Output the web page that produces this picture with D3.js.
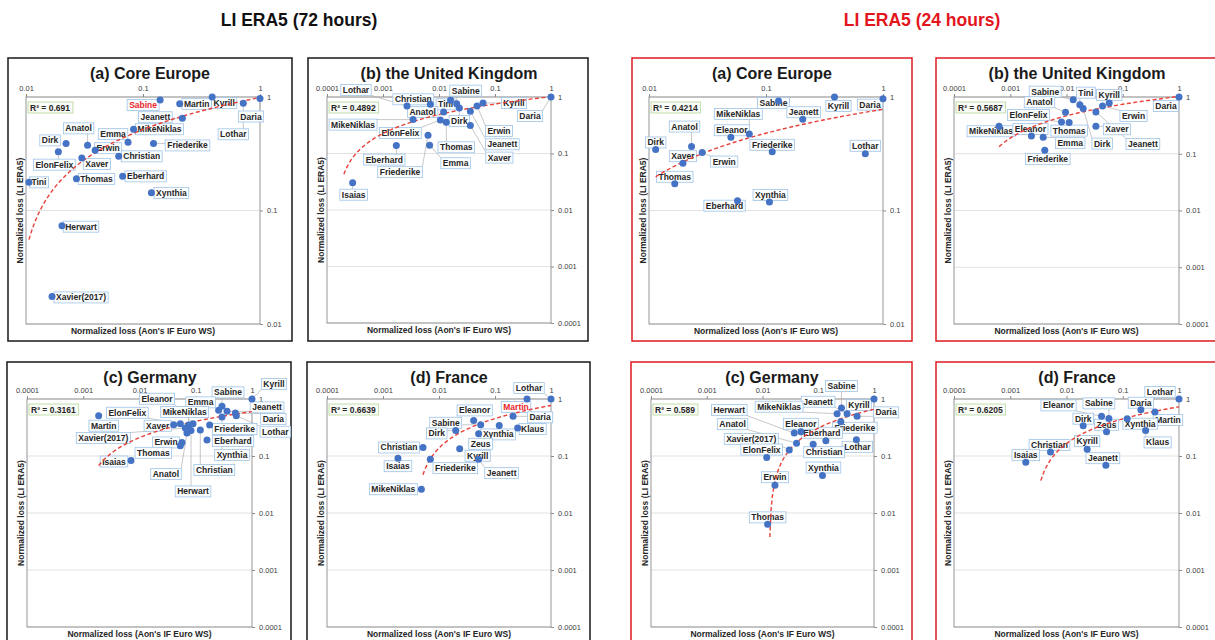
<!DOCTYPE html>
<html><head><meta charset="utf-8">
<script src="https://cdn.jsdelivr.net/npm/d3@7"></script>
<style>body{margin:0;background:#fff;} svg{display:block;}</style>
</head><body><svg id="c" width="1215" height="640"></svg>
<script>
// ---------------- DATA (normalized losses) ----------------
// 72 hours
const a72_names = ["Sabine","Martin","Kyrill","Daria","Lothar","Jeanett","MikeNiklas","Anatol","Emma","Erwin","Friederike","Dirk","ElonFelix","Christian","Xaver","Thomas","Eberhard","Tini","Xynthia","Herwart","Xavier(2017)"];
const a72_aon = [0.14,0.206,0.39,1.0,0.72,0.217,0.083,0.0336,0.0745,0.039,0.123,0.022,0.0189,0.062,0.030,0.027,0.067,0.0106,0.118,0.0203,0.0167];
const a72_li  = [0.94,0.87,1.0,0.97,0.88,0.65,0.52,0.375,0.40,0.34,0.39,0.39,0.33,0.30,0.29,0.19,0.20,0.177,0.143,0.0735,0.0175];

const b72_names = ["Lothar","Christian","Tini","Sabine","Dirk","Anatol","MikeNiklas","Kyrill","Erwin","Jeanett","Xaver","Daria","ElonFelix","Thomas","Friederike","Emma","Eberhard","Isaias"];
const b72_aon = [0.00268,0.0070,0.0161,0.0207,0.0231,0.0121,0.00344,0.061,0.0477,0.0363,0.0363,1.0,0.01057,0.0135,0.00637,0.0068,0.00173,0.000287];
const b72_li  = [0.694,0.742,0.873,0.763,0.64,0.544,0.398,0.784,0.694,0.559,0.312,1.0,0.393,0.357,0.211,0.140,0.138,0.0304];

const c72_names = ["Kyrill","Sabine","Emma","Eleanor","MikeNiklas","ElonFelix","Xaver","Martin","Xavier(2017)","Anatol","Herwart","Erwin","Thomas","Christian","Friederike","Eberhard","Jeanett","Daria","Lothar","Xynthia","Isaias"];
const c72_aon = [1.0,0.293,0.255,0.0894,0.0748,0.0532,0.0405,0.00188,0.0653,0.0698,0.0824,0.057,0.0532,0.1205,0.1766,0.1585,0.36,0.506,0.526,0.293,0.00706];
const c72_li  = [1.0,0.743,0.632,0.368,0.349,0.368,0.353,0.509,0.309,0.252,0.281,0.173,0.151,0.285,0.349,0.19,0.607,0.567,0.509,0.482,0.0833];

const d72_names = ["Lothar","Martin","Daria","Klaus","Eleanor","Sabine","Xynthia","Dirk","Zeus","Christian","Kyrill","Isaias","Friederike","Jeanett","MikeNiklas"];
const d72_aon = [1.0,0.373,0.21,0.254,0.0416,0.0555,0.119,0.0199,0.051,0.00518,0.0234,0.00185,0.0070,0.051,0.00484];
const d72_li  = [1.0,1.0,0.496,0.309,0.421,0.353,0.344,0.281,0.245,0.141,0.134,0.0916,0.088,0.088,0.0261];

// 24 hours
const a24_names = ["Daria","Kyrill","Sabine","Jeanett","MikeNiklas","Eleanor","Friederike","Lothar","Anatol","Erwin","Dirk","Xaver","Thomas","Eberhard","Xynthia"];
const a24_aon = [1.0,0.385,0.128,0.206,0.072,0.0501,0.113,0.706,0.0231,0.0285,0.0114,0.0195,0.0166,0.0571,0.107];
const a24_li  = [0.967,1.0,0.922,0.637,0.473,0.442,0.329,0.316,0.366,0.324,0.345,0.261,0.172,0.122,0.119];

const b24_names = ["Daria","Kyrill","Erwin","Jeanett","Xaver","Dirk","Tini","Sabine","Anatol","ElonFelix","Thomas","MikeNiklas","Eleanor","Emma","Friederike"];
const b24_aon = [1.0,0.0575,0.0437,0.0333,0.0333,0.0198,0.01726,0.01315,0.0096,0.00815,0.01115,0.000632,0.00238,0.00385,0.00411];
const b24_li  = [1.0,0.785,0.695,0.545,0.305,0.624,0.733,0.898,0.538,0.364,0.354,0.305,0.206,0.196,0.1156];

const c24_names = ["Kyrill","Sabine","Jeanett","MikeNiklas","Daria","Friederike","Lothar","Eberhard","Christian","Eleanor","Herwart","Anatol","Xavier(2017)","ElonFelix","Erwin","Thomas","Xynthia"];
const c24_aon = [1.0,0.261,0.329,0.218,0.497,0.254,0.483,0.137,0.081,0.0489,0.0371,0.0408,0.0302,0.0119,0.01675,0.01236,0.119];
const c24_li  = [1.0,0.695,0.552,0.552,0.496,0.399,0.192,0.185,0.161,0.266,0.252,0.168,0.128,0.094,0.0307,0.00632,0.0454];

const d24_names = ["Lothar","Daria","Martin","Eleanor","Sabine","Xynthia","Dirk","Zeus","Klaus","Kyrill","Christian","Isaias","Jeanett"];
const d24_aon = [1.0,0.21,0.374,0.042,0.0567,0.12,0.0198,0.0515,0.255,0.0233,0.00519,0.00189,0.0501];
const d24_li  = [1.0,0.649,0.59,0.496,0.457,0.451,0.34,0.266,0.281,0.132,0.117,0.078,0.069];

const r2_texts = {a72:"R² = 0.691", b72:"R² = 0.4892", c72:"R² = 0.3161", d72:"R² = 0.6639",
                  a24:"R² = 0.4214", b24:"R² = 0.5687", c24:"R² = 0.589", d24:"R² = 0.6205"};
const ticks2 = [0.01, 0.1, 1];
const ticks4 = [0.0001, 0.001, 0.01, 0.1, 1];
const groupTitles = ["LI ERA5 (72 hours)", "LI ERA5 (24 hours)"];
const xTitle = "Normalized loss (Aon's IF Euro WS)";
const yTitle = "Normalized loss (LI ERA5)";

// ---------------- LAYOUT (label offsets in px, relative to dot) ----------------
const a72_off = [[-17,5],[17,0],[12,6],[-9,18],[-10,31],[-27,-1],[26,0],[-9,-17],[-15,-8],[13,-2],[34,2],[-16,-3],[-4,13],[23,0],[15,6],[20,0],[23,0],[10,0],[20,0],[19,1],[29,1]];
const b72_off = [[-51,-16],[-17,-5],[-5,4],[9,-13],[0,13],[-21,0],[-60,5],[31,0],[22,25],[32,33],[29,32],[-21,19],[-40,13],[10,25],[-28,37],[26,18],[-12,14],[1,12]];
const c72_off = [[22,-15],[6,-14],[-18,-8],[-36,-25],[-4,-13],[-53,-11],[-16,1],[5,10],[-82,10],[-21,41],[2,61],[-16,0],[-27,7],[14,40],[25,4],[26,1],[40,-4],[38,6],[39,16],[10,38],[-17,1]];
const d72_off = [[-22,-11],[-11,8],[27,1],[15,1],[1,-10],[-35,-2],[-1,9],[-19,3],[2,10],[-24,0],[18,7],[0,8],[25,9],[23,14],[-28,0]];
const a24_off = [[-13,6],[4,9],[-5,2],[1,-7],[-11,-20],[1,-7],[0,-7],[0,-8],[-7,-20],[22,9],[0,-7],[0,-7],[0,-7],[-13,5],[1,-7]];
const b24_off = [[-13,9],[0,-8],[31,10],[47,32],[21,3],[19,35],[6,-12],[-28,-8],[-26,-10],[-33,-7],[0,8],[-8,5],[-1,-7],[27,6],[3,9]];
const c24_off = [[-15,6],[0,-22],[-29,-12],[-58,-7],[29,-4],[14,6],[1,7],[-4,-8],[11,8],[0,-8],[-65,-23],[-64,-19],[-38,-11],[-5,-8],[0,-8],[0,-7],[1,-8]];
const d24_off = [[-19,-7],[0,-7],[13,8],[-43,-11],[-10,-15],[13,5],[0,-7],[0,-7],[12,12],[0,-8],[-1,-7],[0,-7],[-3,-7]];

// where the drawn trendline stops at its low end (style of the reference)
const trendFloor = {d72:0.047, c24:0.0038, d24:0.037};
const trendFrom  = {b72:0.0002};

const BLACK = "#262626", RED = "#e0282e";
const panels = [
  {key:"a72", title:"(a) Core Europe", names:a72_names, aon:a72_aon, li:a72_li, off:a72_off, red:["Sabine"], ticks:ticks2, frame:[8,58,284,283], plot:[26,97,234,227], tx:150, col:BLACK},
  {key:"b72", title:"(b) the United Kingdom", names:b72_names, aon:b72_aon, li:b72_li, off:b72_off, red:[], ticks:ticks4, frame:[308,58,280,283], plot:[327,97,224,226], tx:449, col:BLACK},
  {key:"c72", title:"(c) Germany", names:c72_names, aon:c72_aon, li:c72_li, off:c72_off, red:[], ticks:ticks4, frame:[7,362,284,300], plot:[27,399,225,228], tx:150, col:BLACK},
  {key:"d72", title:"(d) France", names:d72_names, aon:d72_aon, li:d72_li, off:d72_off, red:["Martin"], ticks:ticks4, frame:[307,362,283,300], plot:[327,399,224,228], tx:449, col:BLACK},
  {key:"a24", title:"(a) Core Europe", names:a24_names, aon:a24_aon, li:a24_li, off:a24_off, red:[], ticks:ticks2, frame:[632,58,280,283], plot:[649,97,234,227], tx:772, col:RED},
  {key:"b24", title:"(b) the United Kingdom", names:b24_names, aon:b24_aon, li:b24_li, off:b24_off, red:[], ticks:ticks4, frame:[936,58,300,283], plot:[954,97,225,227], tx:1077, col:RED},
  {key:"c24", title:"(c) Germany", names:c24_names, aon:c24_aon, li:c24_li, off:c24_off, red:[], ticks:ticks4, frame:[631,362,281,300], plot:[651,399,223,228], tx:772, col:RED},
  {key:"d24", title:"(d) France", names:d24_names, aon:d24_aon, li:d24_li, off:d24_off, red:[], ticks:ticks4, frame:[936,362,300,300], plot:[954,399,225,228], tx:1077, col:RED}
];

const FONT = '"Liberation Sans", Arial, Helvetica, sans-serif';
const svg = d3.select("#c").style("font-family", FONT);
svg.append("rect").attr("width",1215).attr("height",640).attr("fill","#fff");

svg.append("text").attr("x",299).attr("y",26).attr("text-anchor","middle")
  .attr("font-size",17.5).attr("font-weight","bold").attr("fill","#111").text(groupTitles[0]);
svg.append("text").attr("x",922).attr("y",26).attr("text-anchor","middle")
  .attr("font-size",17.5).attr("font-weight","bold").attr("fill","#e3151d").text(groupTitles[1]);

const fmt = d => d >= 1 ? "1" : String(d);

function logFit(xs, ys){
  const L = xs.map(Math.log), n = xs.length;
  const mL = d3.mean(L), mY = d3.mean(ys);
  let sxy = 0, sxx = 0;
  for (let i=0;i<n;i++){ sxy += (L[i]-mL)*(ys[i]-mY); sxx += (L[i]-mL)*(L[i]-mL); }
  const a = sxy/sxx; return {a, b: mY - a*mL};
}

panels.forEach(p => {
  const [pl, pt, pw, ph] = p.plot;
  const dom = [p.ticks[0], 1];
  const x = d3.scaleLog().domain(dom).range([pl, pl+pw]);
  const y = d3.scaleLog().domain(dom).range([pt+ph, pt]);
  const g = svg.append("g");

  // frame
  g.append("rect").attr("x",p.frame[0]).attr("y",p.frame[1]).attr("width",p.frame[2]).attr("height",p.frame[3])
    .attr("fill","#fff").attr("stroke",p.col).attr("stroke-width",1.6);
  // title
  g.append("text").attr("x",p.tx).attr("y",p.frame[1]+21).attr("text-anchor","middle")
    .attr("font-size",16).attr("font-weight","bold").attr("fill","#1a1a1a").text(p.title);

  // gridlines
  g.append("g").selectAll("line").data(p.ticks).join("line")
    .attr("x1",pl).attr("x2",pl+pw).attr("y1",d=>y(d)).attr("y2",d=>y(d))
    .attr("stroke","#d9d9d9").attr("stroke-width",0.8);
  // plot border
  g.append("rect").attr("x",pl).attr("y",pt).attr("width",pw).attr("height",ph)
    .attr("fill","none").attr("stroke","#8c8c8c").attr("stroke-width",0.9);

  // axes
  const ax = g.append("g").attr("transform",`translate(0,${pt})`)
    .call(d3.axisTop(x).tickValues(p.ticks).tickFormat(fmt).tickSize(3).tickPadding(3));
  const ay = g.append("g").attr("transform",`translate(${pl+pw},0)`)
    .call(d3.axisRight(y).tickValues(p.ticks).tickFormat(fmt).tickSize(3).tickPadding(4));
  [ax, ay].forEach(a => {
    a.select(".domain").remove();
    a.selectAll("line").attr("stroke","#8c8c8c");
    a.selectAll("text").attr("font-size",7.5).attr("fill","#404040").style("font-family",FONT);
  });

  // axis titles
  g.append("text").attr("x",pl+pw/2).attr("y",pt+ph+9.5).attr("text-anchor","middle")
    .attr("font-size",8.5).attr("font-weight","bold").attr("fill","#262626").text(xTitle);
  g.append("text").attr("transform",`translate(${pl-3},${pt+ph/2}) rotate(-90)`).attr("text-anchor","middle")
    .attr("font-size",8.5).attr("font-weight","bold").attr("fill","#262626").text(yTitle);

  // R² box
  const rg = g.append("g");
  const rr = rg.append("rect");
  const rt = rg.append("text").attr("x",pl+4).attr("y",pt+10.5+3).attr("font-size",8.5)
    .attr("font-weight","bold").attr("fill","#262626").text(r2_texts[p.key]);
  const rw = rt.node().getComputedTextLength();
  rr.attr("x",pl+2).attr("y",pt+5).attr("width",rw+5).attr("height",11)
    .attr("fill","#fafcf7").attr("stroke","#b4d69a").attr("stroke-width",0.8);

  const pts = p.names.map((n,i) => ({name:n, px:x(p.aon[i]), py:y(p.li[i]), dx:p.off[i][0], dy:p.off[i][1]}));

  const gLead = g.append("g"), gLab = g.append("g"), gTrend = g.append("g"), gDot = g.append("g");

  pts.forEach(d => {
    const cx = d.px + d.dx, cy = d.py + d.dy;
    const lg = gLab.append("g");
    const r = lg.append("rect");
    const t = lg.append("text").attr("x",cx).attr("y",cy+3).attr("text-anchor","middle")
      .attr("font-size",8.5).attr("font-weight","bold")
      .attr("fill", p.red.includes(d.name) ? "#e8262b" : "#262626").text(d.name);
    const w = t.node().getComputedTextLength();
    const bx = cx - w/2 - 2, by = cy - 5.5, bw = w + 4, bh = 11;
    r.attr("x",bx).attr("y",by).attr("width",bw).attr("height",bh)
      .attr("fill","#fdfeff").attr("stroke","#9fc3e7").attr("stroke-width",0.8);
    const nx = Math.max(bx, Math.min(d.px, bx+bw)), ny = Math.max(by, Math.min(d.py, by+bh));
    if (Math.hypot(nx-d.px, ny-d.py) > 6) {
      gLead.append("line").attr("x1",d.px).attr("y1",d.py).attr("x2",nx).attr("y2",ny)
        .attr("stroke","#b0b0b0").attr("stroke-width",0.7);
    }
  });

  // logarithmic trendline (y = a ln x + b) fitted to the data
  const f = logFit(p.aon, p.li);
  const floor = trendFloor[p.key] || dom[0];
  let xs = trendFrom[p.key] || d3.min(p.aon);
  xs = Math.max(xs, Math.exp((floor - f.b)/f.a));
  const xe = d3.max(p.aon), N = 80;
  const tr = d3.range(N+1).map(i => xs*Math.pow(xe/xs, i/N))
    .map(v => [v, f.a*Math.log(v) + f.b]).filter(q => q[1] >= dom[0]);
  gTrend.append("path").datum(tr)
    .attr("d", d3.line().x(q=>x(q[0])).y(q=>y(q[1])))
    .attr("fill","none").attr("stroke","#e8403a").attr("stroke-width",1.4).attr("stroke-dasharray","4,2.5");

  gDot.selectAll("circle").data(pts).join("circle")
    .attr("cx",d=>d.px).attr("cy",d=>d.py).attr("r",3.5).attr("fill","#4472c4");
});
</script></body></html>
